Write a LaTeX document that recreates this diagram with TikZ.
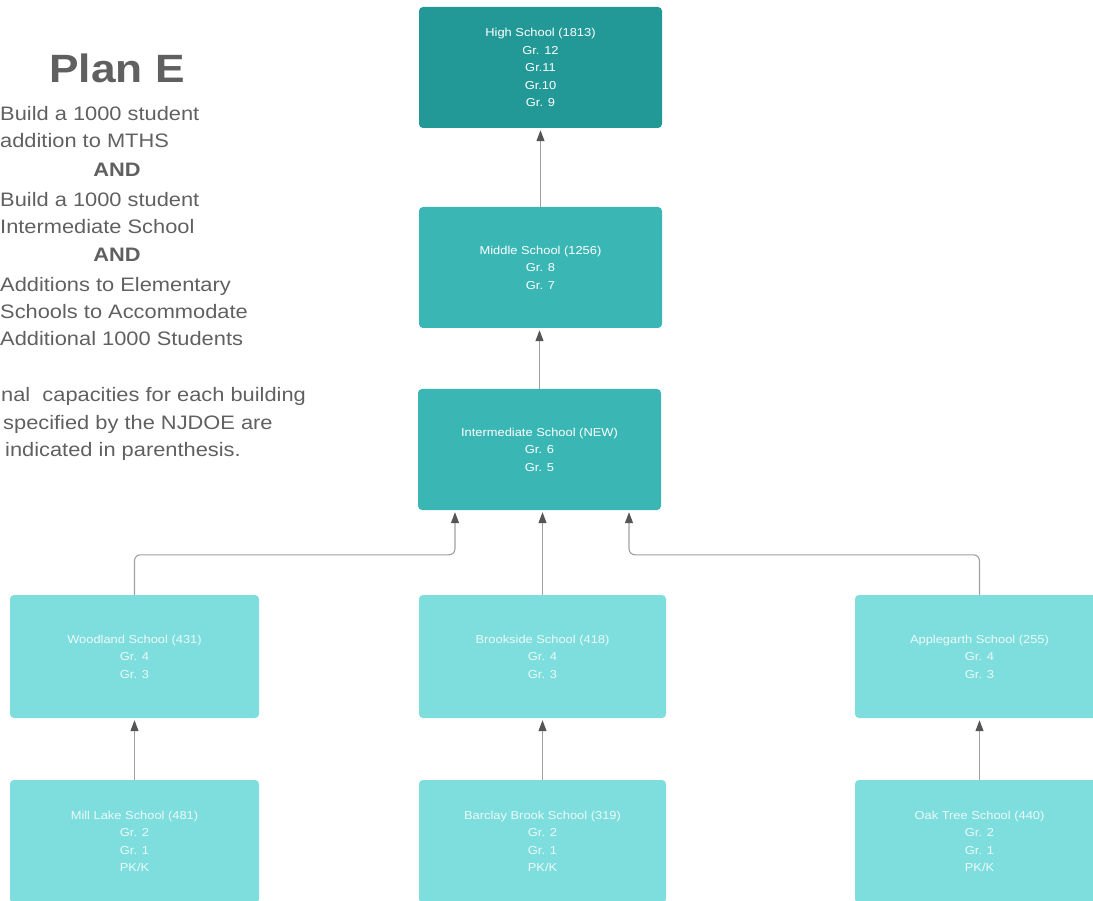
\documentclass[tikz,border=0pt]{standalone}
\usepackage{fontspec}
\setmainfont{Liberation Sans}[FakeStretch=1.12]
\usetikzlibrary{arrows.meta}

\definecolor{hsteal}{RGB}{34,153,151}
\definecolor{msteal}{RGB}{58,182,181}
\definecolor{esteal}{RGB}{126,221,221}
\definecolor{plangray}{RGB}{96,96,96}
\definecolor{linkgray}{RGB}{160,160,160}
\definecolor{tipgray}{RGB}{85,85,85}

\begin{document}
\begin{tikzpicture}[x=1pt, y=-1pt,
        school/.style={rectangle, rounded corners=4pt, text=white, align=center, inner sep=0pt,
            minimum width=243pt, minimum height=121pt, font=\fontsize{11.5}{17.5}\selectfont},
        elem/.style={school, fill=esteal, text=white!85!esteal, minimum width=249pt, minimum height=123pt},
        link/.style={draw=linkgray, line width=1.1pt, rounded corners=6pt, shorten >=2pt,
            -{Triangle[length=11pt, width=8pt, color=tipgray]}}]
        \useasboundingbox (0,0) rectangle (1093,901);
        \clip (0,0) rectangle (1093,901);

        % left hand notes
        \node[text=plangray, anchor=base, inner sep=0pt, font=\bfseries\fontsize{39.5}{45}\selectfont] (plan) at (117, 83) {Plan E};
        \foreach \x/\y/\t in {0/121/Build a 1000 student, 0/148/addition to MTHS, 0/207/Build a 1000 student,
            0/234/Intermediate School, 0/292/Additions to Elementary, 0/319/Schools to Accommodate,
            0/346/Additional 1000 Students, 1/402/nal\ \ capacities for each building,
            3/429/specified by the NJDOE are, 5/456/indicated in parenthesis.}
        {
            \node[text=plangray, anchor=base west, inner sep=0pt, font=\fontsize{19.5}{27}\selectfont] (line\y) at (\x, \y) {\t};
        }
        \foreach \y in {177, 262}
            \node[text=plangray, anchor=base, inner sep=0pt, font=\bfseries\fontsize{19.5}{27}\selectfont] (and\y) at (117, \y) {AND};

        % schools
        \node[school, fill=hsteal] (high) at (540.5, 67.5) {High School (1813)\\Gr. 12\\Gr.11\\Gr.10\\Gr. 9};
        \node[school, fill=msteal] (middle) at (540.5, 267.5) {Middle School (1256)\\Gr. 8\\Gr. 7};
        \node[school, fill=msteal] (inter) at (539.5, 449.5) {Intermediate School (NEW)\\Gr. 6\\Gr. 5};

        \node[elem] (wood) at (134.5, 656.5) {Woodland School (431)\\Gr. 4\\Gr. 3};
        \node[elem, minimum width=247pt] (brook) at (542.5, 656.5) {Brookside School (418)\\Gr. 4\\Gr. 3};
        \node[elem] (apple) at (979.5, 656.5) {Applegarth School (255)\\Gr. 4\\Gr. 3};

        \node[elem] (mill) at (134.5, 841.5) {Mill Lake School (481)\\Gr. 2\\Gr. 1\\PK/K};
        \node[elem, minimum width=247pt] (barclay) at (542.5, 841.5) {Barclay Brook School (319)\\Gr. 2\\Gr. 1\\PK/K};
        \node[elem] (oak) at (979.5, 841.5) {Oak Tree School (440)\\Gr. 2\\Gr. 1\\PK/K};

        % links
        \draw[link] (middle.north) -- (high.south);
        \draw[link] (inter.north) -- (inter.north |- middle.south);
        \draw[link] (brook.north) -- (brook.north |- inter.south);
        \draw[link] (wood.north) -- ++(0,-40) -| ([xshift=-84.5pt]inter.south);
        \draw[link] (apple.north) -- ++(0,-40) -| ([xshift=89.5pt]inter.south);
        \foreach \a/\b in {mill/wood, barclay/brook, oak/apple}
            \draw[link] (\a.north) -- (\b.south);
    \end{tikzpicture}
\end{document}
